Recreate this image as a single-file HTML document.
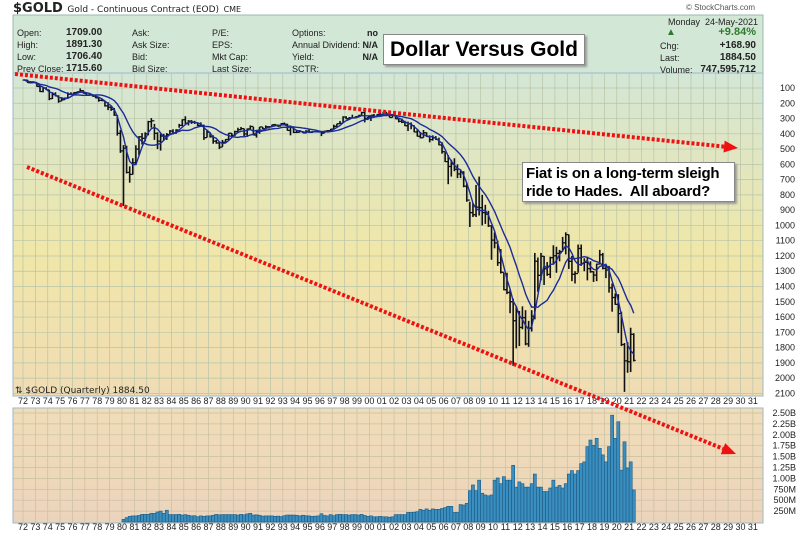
<!DOCTYPE html>
<html><head><meta charset="utf-8">
<style>
body{margin:0;background:#fff;font-family:"Liberation Sans",sans-serif;}
#wrap{position:relative;width:800px;height:536px;overflow:hidden;background:#fff;}
.t{position:absolute;font-size:9px;color:#222;white-space:nowrap;}
.b{font-weight:bold;}
</style></head>
<body>
<div id="wrap">
<svg id="svg" width="800" height="536" style="position:absolute;left:0;top:0">
<defs>
<linearGradient id="pg" x1="0" y1="0" x2="0" y2="1">
<stop offset="0" stop-color="#d3e6d6"/><stop offset="0.55" stop-color="#f0e7a9"/><stop offset="1" stop-color="#f0dcb4"/>
</linearGradient>
<linearGradient id="vg" x1="0" y1="0" x2="0" y2="1">
<stop offset="0" stop-color="#f0ddb8"/><stop offset="1" stop-color="#ecd4bc"/>
</linearGradient>
</defs>
<rect x="13" y="15" width="750" height="58" fill="#d3e7d6" stroke="#9bb8a8" stroke-width="1"/>
<rect x="13" y="73" width="750" height="323" fill="url(#pg)" stroke="#9bb8c8"/>
<rect x="13" y="408" width="750" height="115" fill="url(#vg)" stroke="#9bb8c8"/>
<g id="grid"></g><g id="vol"></g><g id="bars"></g><g id="ma"></g><g id="axes"></g><g id="trend"></g>
</svg>

<div class="t" style="left:13px;top:1px;font-size:13px;font-weight:bold;font-family:'DejaVu Sans',sans-serif">$GOLD <span style="font-size:9px;font-weight:normal">Gold - Continuous Contract (EOD)</span> <span style="font-size:8px;font-weight:normal">CME</span></div>
<div class="t" style="left:686px;top:3px;font-size:8px;color:#555">© StockCharts.com</div>

<div class="t" style="left:17px;top:27px;line-height:12px">Open:<br>High:<br>Low:<br>Prev Close:</div>
<div class="t b" style="left:66px;top:27px;line-height:12px;font-size:10px">1709.00<br>1891.30<br>1706.40<br>1715.60</div>
<div class="t" style="left:132px;top:27px;line-height:12px">Ask:<br>Ask Size:<br>Bid:<br>Bid Size:</div>
<div class="t" style="left:212px;top:27px;line-height:12px">P/E:<br>EPS:<br>Mkt Cap:<br>Last Size:</div>
<div class="t" style="left:292px;top:27px;line-height:12px">Options:<br>Annual Dividend:<br>Yield:<br>SCTR:</div>
<div class="t b" style="left:362px;top:27px;line-height:12px;text-align:right;width:16px">no<br>N/A<br>N/A</div>

<div class="t" style="left:668px;top:16px;line-height:12px">Monday&nbsp; 24-May-2021</div>
<div class="t" style="left:666px;top:27px;font-size:10px;color:#2f7a2f">▲</div>
<div class="t b" style="left:700px;top:26px;width:56px;text-align:right;font-size:11px;color:#2f7a2f">+9.84%</div>
<div class="t" style="left:660px;top:40px;line-height:12px">Chg:<br>Last:<br>Volume:</div>
<div class="t b" style="left:690px;top:40px;width:66px;line-height:12px;text-align:right;font-size:10px">+168.90<br>1884.50<br>747,595,712</div>

<div style="position:absolute;left:383px;top:34px;width:200px;height:29px;background:#fff;border:1px solid #888;box-shadow:2px 2px 2px #999;font-size:21px;font-weight:bold;text-align:center;line-height:29px">Dollar Versus Gold</div>
<div style="position:absolute;left:522px;top:162px;width:213px;height:40px;background:#fff;border:1px solid #888;box-shadow:2px 2px 2px #999;font-size:15px;font-weight:bold;line-height:18px;padding:2px 0 0 3px;box-sizing:border-box;white-space:nowrap;letter-spacing:-0.2px">Fiat is on a long-term sleigh<br>ride to Hades.&nbsp; All aboard?</div>

<div class="t" style="left:15px;top:386px;font-family:'DejaVu Sans',sans-serif;font-size:9px">⇅ $GOLD (Quarterly) 1884.50</div>
</div>
<script>
// quarterly data 1972Q1 .. 2021Q2
const closes=[48,65,65,64, 90,123,100,112, 170,143,152,186, 177,166,142,140, 130,125,117,134, 148,143,154,165, 181,183,217,226, 240,278,397,512, 494,653,666,590, 500,420,430,400, 320,315,397,448, 415,415,405,382, 395,375,345,308, 330,317,325,327, 345,345,425,390, 420,448,460,487, 455,437,396,410, 385,373,366,401, 368,352,408,386, 355,367,354,353, 341,343,349,333, 337,378,355,391, 390,385,394,383, 391,387,384,387, 396,382,379,369, 351,334,332,290, 301,296,296,288, 279,261,299,290, 278,288,273,273, 258,270,293,278, 302,318,324,347, 334,346,388,416, 426,393,418,438, 427,437,473,517, 582,614,598,632, 663,650,743,834, 916,930,880,884, 916,927,1003,1096, 1115,1244,1307,1421, 1439,1500,1624,1566, 1668,1604,1776,1675, 1595,1234,1327,1202, 1284,1321,1211,1199, 1183,1171,1114,1060, 1235,1320,1315,1151, 1249,1242,1283,1303, 1325,1253,1192,1281, 1292,1409,1472,1517, 1577,1780,1887,1893, 1713,1884];
const highs=[50,67,70,68, 92,127,128,114, 180,172,155,197, 186,178,168,146, 141,132,125,136, 152,151,156,167, 190,186,222,245, 250,282,412,525, 873,660,720,667, 600,540,470,450, 410,360,440,500, 510,445,440,410, 405,400,360,350, 335,345,335,335, 350,350,440,425, 425,465,465,500, 485,460,445,425, 415,395,375,415, 420,375,410,425, 400,370,370,365, 355,345,355,345, 340,380,410,395, 395,390,395,398, 395,395,390,391, 415,395,385,383, 367,353,335,330, 305,301,300,300, 293,285,325,310, 316,290,290,275, 270,285,293,293, 304,325,330,350, 382,370,390,418, 430,425,420,456, 445,440,475,530, 585,730,680,645, 690,690,750,845, 1010,945,945,935, 1000,990,1010,1225, 1150,1265,1315,1425, 1450,1575,1920,1805, 1790,1680,1785,1795, 1695,1615,1435,1360, 1390,1330,1345,1255, 1310,1235,1170,1190, 1285,1365,1380,1310, 1265,1300,1360,1310, 1370,1365,1255,1288, 1345,1440,1565,1520, 1705,1790,2090,1965, 1960,1891];
const lows=[43,47,58,62, 64,88,95,95, 112,135,128,148, 165,162,128,128, 127,123,103,115, 131,139,141,154, 166,170,183,193, 216,231,277,375, 474,478,613,560, 475,415,395,390, 315,297,335,390, 400,400,395,375, 370,370,335,305, 285,310,310,315, 325,325,340,375, 390,410,440,455, 440,435,395,395, 380,360,355,365, 365,345,355,375, 355,355,345,350, 340,335,340,330, 326,335,345,355, 376,375,382,376, 372,382,383,385, 390,380,375,368, 340,334,316,285, 285,290,275,286, 278,255,255,290, 278,270,272,264, 255,257,265,272, 277,300,300,315, 320,325,345,370, 390,375,390,410, 410,415,425,455, 520,540,570,560, 600,640,645,720, 845,855,735,680, 800,865,905,1000, 1045,1100,1155,1310, 1310,1420,1480,1530, 1560,1530,1555,1625, 1555,1180,1210,1180, 1200,1240,1205,1130, 1140,1160,1075,1045, 1060,1200,1300,1125, 1125,1215,1205,1235, 1300,1250,1160,1180, 1265,1265,1380,1445, 1450,1565,1770,1765, 1670,1706];
// volume in millions, starting 1980Q1
const volumes=[60,100,130,140, 140,150,175,175, 175,200,200,230, 250,200,270,170, 170,170,175,160, 170,155,140,145, 120,140,130,140, 140,155,175,165, 170,170,170,170, 170,160,175,165, 185,200,160,165, 155,135,140,140, 140,130,135,125, 145,160,160,160, 155,140,155,145, 140,130,135,140, 190,150,140,170, 145,170,175,170, 170,160,170,170, 160,175,150,130, 140,120,120,130, 120,120,110,120, 170,170,170,170, 220,220,225,235, 290,270,300,270, 300,290,290,310, 330,360,360,220, 220,400,390,430, 720,850,720,960, 660,620,600,620, 960,1010,880,1040, 960,960,1300,800, 920,880,800,800, 880,1100,800,800, 700,700,780,960, 800,840,780,880, 1100,1180,1100,1180, 1340,1380,1730,1880, 1760,1920,1690,1540, 1380,1730,2450,1920, 2300,1190,1840,1240, 1380,735];
const yearLabels=["72","73","74","75","76","77","78","79","80","81","82","83","84","85","86","87","88","89","90","91","92","93","94","95","96","97","98","99","00","01","02","03","04","05","06","07","08","09","10","11","12","13","14","15","16","17","18","19","20","21","22","23","24","25","26","27","28","29","30","31"];
const priceTicks=[100,200,300,400,500,600,700,800,900,1000,1100,1200,1300,1400,1500,1600,1700,1800,1900,2000,2100];
const volTicks=[250,500,750,1000,1250,1500,1750,2000,2250,2500];
const volTickLabels=["250M","500M","750M","1.00B","1.25B","1.50B","1.75B","2.00B","2.25B","2.50B"];

const NS="http://www.w3.org/2000/svg";
function X(yr){return 23+(yr-1972)*12.37;}
function Y(p){return 88+(p-100)*0.1527;}
function VY(v){return 522-v*0.0436;}
function mk(tag,attrs,parent){const e=document.createElementNS(NS,tag);for(const k in attrs)e.setAttribute(k,attrs[k]);document.getElementById(parent).appendChild(e);return e;}

yearLabels.forEach((l,i)=>{
  const x=X(1972+i);
  const g1=mk('line',{x1:x,x2:x,y1:73,y2:396,stroke:'#b8c4a8','stroke-width':0.7},'grid');
  
  
  const g2=mk('line',{x1:x,x2:x,y1:408,y2:523,stroke:'#c8c0a0','stroke-width':0.7},'grid');
  
  
  [401,527].forEach(ty=>{
    const t=mk('text',{x:x,y:ty+3,'font-size':9,'text-anchor':'middle','font-family':'Liberation Sans, sans-serif',fill:'#222'},'axes');
    t.textContent=l;
    
    
  });
});
priceTicks.forEach(p=>{
  const y=Y(p);
  const g=mk('line',{x1:13,x2:763,y1:y,y2:y,stroke:'#b8c4a8','stroke-width':0.7},'grid');
  
  
  const t=mk('text',{x:795,y:y+3,'font-size':9,'text-anchor':'end','font-family':'Liberation Sans, sans-serif',fill:'#222'},'axes');
  t.textContent=p;
  
  
});
volTicks.forEach((v,i)=>{
  const y=VY(v);
  const g=mk('line',{x1:13,x2:763,y1:y,y2:y,stroke:'#c8c0a0','stroke-width':0.7},'grid');
  
  
  const t=mk('text',{x:796,y:y+3,'font-size':9,'text-anchor':'end','font-family':'Liberation Sans, sans-serif',fill:'#222'},'axes');
  t.textContent=volTickLabels[i];
  
  
});

volumes.forEach((v,i)=>{
  const x=X(1980+i/4);
  const r=mk('rect',{x:x,y:VY(v),width:3.09,height:522-VY(v),fill:'#3b8fc0',stroke:'#1c5a82','stroke-width':0.6},'vol');
  
  
});

closes.forEach((c,i)=>{
  const x=X(1972+i/4+0.125);
  const l=mk('line',{x1:x,x2:x,y1:Y(highs[i]),y2:Y(lows[i]),stroke:'#111','stroke-width':1.6},'bars');
  
  
  const o=i>0?closes[i-1]:c;
  const lo=mk('line',{x1:x-2,x2:x,y1:Y(o),y2:Y(o),stroke:'#111','stroke-width':1.2},'bars');
  
  
  const lc=mk('line',{x1:x,x2:x+2,y1:Y(c),y2:Y(c),stroke:'#111','stroke-width':1.2},'bars');
  
  
});

function maPath(n){
  let d='';
  closes.forEach((c,i)=>{
    const s=closes.slice(Math.max(0,i-n+1),i+1);
    const a=s.reduce((p,q)=>p+q,0)/s.length;
    d+=(i?'L':'M')+X(1972+i/4+0.125).toFixed(1)+','+Y(a).toFixed(1);
  });
  return d;
}
const m1=mk('path',{d:maPath(4),fill:'none',stroke:'#1a2b9a','stroke-width':1.4},'ma');


const m2=mk('path',{d:maPath(12),fill:'none',stroke:'#1a2b9a','stroke-width':1.4},'ma');



function trend(x1,y1,x2,y2,name){
  const ang=Math.atan2(y2-y1,x2-x1),L=14;
  const bx=x2-L*Math.cos(ang),by=y2-L*Math.sin(ang);
  const ln=mk('line',{x1:x1,y1:y1,x2:bx,y2:by,stroke:'#ee1111','stroke-width':4,'stroke-dasharray':'3,2'},'trend');
  
  
  const px=-Math.sin(ang)*6,py=Math.cos(ang)*6;
  const ar=mk('polygon',{points:`${x2},${y2} ${bx+px},${by+py} ${bx-px},${by-py}`,fill:'#ee1111'},'trend');
  
  
}
trend(15,74,738,148,'upper-trend-line');
trend(27,167,736,454,'lower-trend-line');
</script>
</body></html>
